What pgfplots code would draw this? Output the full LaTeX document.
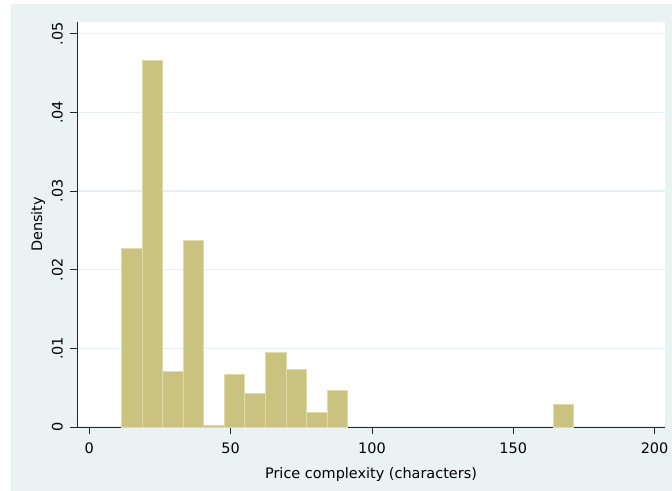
\documentclass[border=0pt]{standalone}
\usepackage{pgfplots}
\pgfplotsset{compat=1.18}
\usepackage{fontspec}
\setmainfont{DejaVu Sans}
\definecolor{bgc}{RGB}{234,242,243}
\definecolor{barc}{RGB}{201,195,127}
\definecolor{bare}{RGB}{224,220,170}
\definecolor{gridc}{RGB}{230,239,242}
\begin{document}
\begin{tikzpicture}[font=\fontsize{14.5}{17}\selectfont]
\useasboundingbox (0bp,0bp) rectangle (672bp,491bp);
\fill[white] (0bp,0bp) rectangle (672bp,491bp);
\fill[bgc] (11bp,0bp) rectangle (672bp,487bp);
\begin{axis}[at={(77bp,64bp)}, anchor=south west, scale only axis,
  width=588bp, height=405bp,
  xmin=-4.35, xmax=203.7, ymin=0, ymax=0.0515,
  axis x line*=bottom, axis y line*=left,
  axis background/.style={fill=white},
  xtick={0,50,100,150,200},
  ytick={0,0.01,0.02,0.03,0.04,0.05},
  yticklabels={0,.01,.02,.03,.04,.05},
  scaled y ticks=false,
  /pgf/number format/assume math mode=true,
  every tick label/.append style={font=\fontsize{14.5}{17}\selectfont},
  label style={font=\fontsize{14.5}{17}\selectfont},
  ymajorgrids, grid style={gridc, line width=1.2bp},
  tick align=outside, major tick length=7bp,
  tick style={black!85, line width=0.8bp},
  axis line style={black!85, line width=1bp},
  yticklabel style={rotate=90, anchor=south, inner xsep=1bp, inner ysep=7bp},
  xticklabel style={inner xsep=1bp, inner ysep=9bp},
  xlabel={Price complexity (characters)},
  ylabel={Density},
  xlabel style={at={(axis description cs:0.5,-0.1185)}, anchor=center},
  ylabel style={at={(axis description cs:-0.0663,0.5)}, anchor=center},
  clip=false,
]
\addplot[ybar interval, fill=barc, draw=bare, line width=1bp] coordinates {
(11.45,0.0227) (18.72,0.0466) (25.99,0.0071) (33.26,0.0237) (40.53,0.0002)
(47.80,0.0067) (55.07,0.0042) (62.34,0.0095) (69.61,0.0073) (76.88,0.0019)
(84.15,0.0046) (91.42,0.0046)
};
\addplot[ybar interval, fill=barc, draw=bare, line width=1bp] coordinates {
(164.12,0.0029) (171.39,0.0029)
};
\end{axis}
\end{tikzpicture}
\end{document}
